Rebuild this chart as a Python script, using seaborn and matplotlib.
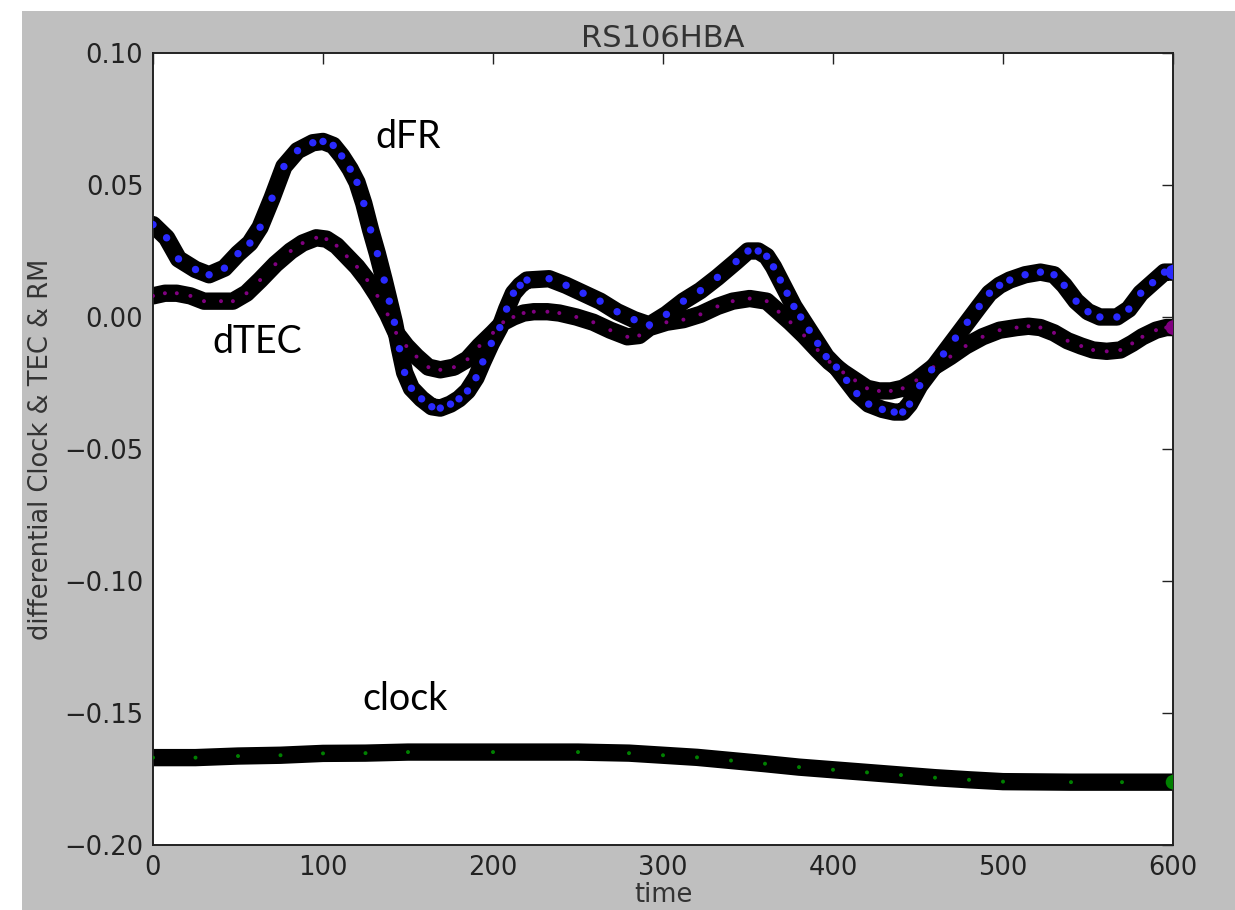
import numpy as np
import pandas as pd
import matplotlib
matplotlib.use("Agg")
import matplotlib.pyplot as plt
import seaborn as sns
from matplotlib.patches import Rectangle

# values (time, differential value)
dfr_t = [0, 8, 15, 25, 33, 42, 50, 57, 63, 70, 77, 85, 94, 100, 106, 111, 116, 120,
         124, 128, 132, 136, 139, 142, 145, 148, 152, 158, 164, 169, 175, 180, 185,
         190, 194, 199, 204, 208, 212, 216, 220, 233, 243, 253, 263, 273, 283, 292,
         302, 312, 322, 332, 343, 350, 356, 361, 365, 369, 373, 377, 381, 386, 391,
         396, 402, 408, 414, 421, 429, 436, 441, 445, 451, 458, 465, 472, 479, 486,
         492, 498, 504, 513, 522, 530, 536, 543, 550, 557, 567, 574, 581, 588, 595, 600]
dfr_v = [0.035, 0.030, 0.022, 0.018, 0.016, 0.0185, 0.024, 0.028, 0.034, 0.045, 0.057,
         0.063, 0.066, 0.0665, 0.065, 0.061, 0.056, 0.051, 0.043, 0.033, 0.024, 0.014,
         0.006, -0.002, -0.012, -0.021, -0.027, -0.031, -0.034, -0.0345, -0.033, -0.031,
         -0.028, -0.023, -0.017, -0.010, -0.004, 0.003, 0.009, 0.012, 0.014, 0.0145,
         0.012, 0.009, 0.006, 0.002, -0.001, -0.003, 0.001, 0.006, 0.010, 0.015, 0.021,
         0.025, 0.025, 0.023, 0.019, 0.014, 0.009, 0.004, 0.000, -0.005, -0.010, -0.015,
         -0.019, -0.024, -0.029, -0.033, -0.035, -0.036, -0.036, -0.033, -0.026, -0.020,
         -0.014, -0.008, -0.002, 0.004, 0.009, 0.012, 0.014, 0.016, 0.017, 0.016, 0.012,
         0.006, 0.002, 0.000, 0.000, 0.003, 0.009, 0.013, 0.017, 0.017]

dtec_t = [0, 7, 14, 22, 30, 40, 47, 55, 63, 72, 81, 88, 96, 102, 108, 114, 120, 126,
          132, 138, 143, 149, 155, 162, 169, 177, 185, 192, 200, 206, 212, 218, 224,
          232, 239, 249, 259, 269, 279, 286, 292, 302, 312, 322, 332, 341, 351, 361,
          368, 375, 383, 391, 398, 406, 413, 420, 427, 434, 441, 449, 459, 469, 478,
          488, 498, 508, 515, 522, 530, 538, 546, 553, 561, 569, 576, 582, 590, 596, 600]
dtec_v = [0.008, 0.009, 0.009, 0.008, 0.006, 0.006, 0.006, 0.009, 0.014, 0.020, 0.025,
          0.028, 0.030, 0.0295, 0.027, 0.023, 0.019, 0.014, 0.008, 0.001, -0.006, -0.011,
          -0.015, -0.019, -0.020, -0.019, -0.016, -0.011, -0.006, -0.002, 0.000, 0.0015,
          0.002, 0.002, 0.0015, 0.000, -0.002, -0.005, -0.0075, -0.007, -0.004, -0.002,
          -0.001, 0.001, 0.004, 0.006, 0.007, 0.006, 0.002, -0.002, -0.007, -0.0125,
          -0.017, -0.021, -0.024, -0.027, -0.028, -0.028, -0.027, -0.024, -0.019, -0.015,
          -0.011, -0.0075, -0.005, -0.004, -0.0035, -0.004, -0.006, -0.009, -0.011,
          -0.0125, -0.013, -0.0125, -0.010, -0.0075, -0.005, -0.004, -0.004]

clock_t = [0, 25, 50, 75, 100, 125, 150, 200, 250, 280, 300, 320, 340, 360, 380, 400,
           420, 440, 460, 480, 500, 540, 570, 600]
clock_v = [-0.1669, -0.1669, -0.1663, -0.1660, -0.1653, -0.1652, -0.1648, -0.1648,
           -0.1648, -0.1652, -0.1660, -0.1668, -0.1680, -0.1692, -0.1705, -0.1715,
           -0.1725, -0.1735, -0.1745, -0.1753, -0.1760, -0.1762, -0.1762, -0.1762]

# name, times, values, colour, marker size inside the band
series = [("clock", clock_t, clock_v, "#008000", 8),
          ("dTEC", dtec_t, dtec_v, "#800080", 8),
          ("dFR", dfr_t, dfr_v, "#2a2aff", 28)]

sns.set_style("white")
plt.rcParams["font.family"] = ["DejaVu Sans"]

fig = plt.figure(figsize=(12.35, 9.10), dpi=100, facecolor="white")
fig.patches.append(Rectangle((22 / 1235, 0), 1, 899 / 910, transform=fig.transFigure,
                             facecolor="#bfbfbf", edgecolor="none", zorder=-5))
ax = fig.add_axes([153 / 1235, 1 - 845 / 910, 1020 / 1235, 792 / 910])
ax.set_facecolor("white")

for name, t, v, col, ms in series:
    df = pd.DataFrame({"time": t, "val": v})
    sns.lineplot(data=df, x="time", y="val", color="black", linewidth=12.5,
                 solid_capstyle="round", solid_joinstyle="round", ax=ax)
    sns.scatterplot(data=df, x="time", y="val", color=col, s=ms,
                    edgecolor="none", ax=ax, zorder=3)
    # last sample sits on the right spine and shows fully
    sns.scatterplot(data=df.tail(1), x="time", y="val", color=col, s=110,
                    edgecolor="none", ax=ax, zorder=4)

ax.set_xlim(0, 600)
ax.set_ylim(-0.20, 0.10)
ax.set_xticks([0, 100, 200, 300, 400, 500, 600])
ax.set_yticks([-0.20, -0.15, -0.10, -0.05, 0.00, 0.05, 0.10])
ax.set_yticklabels(["\u22120.20", "\u22120.15", "\u22120.10", "\u22120.05",
                    "0.00", "0.05", "0.10"])
ax.tick_params(direction="in", top=True, right=True, length=8, width=1,
               labelsize=18.5, colors="#222222", pad=7)
for sp in ax.spines.values():
    sp.set_linewidth(1.4)
    sp.set_color("#222222")

ax.set_title("RS106HBA", fontsize=22, color="#333333", pad=4)
ax.set_xlabel("time", fontsize=18.5, color="#333333", labelpad=1)
ax.set_ylabel("differential Clock & TEC & RM", fontsize=18.5, color="#333333",
              labelpad=7)

ann_font = dict(family=["Lato", "DejaVu Sans"], fontsize=27, color="black")
ax.text(131, 0.064, "dFR", **ann_font)
ax.text(35, -0.0136, "dTEC", **ann_font)
ax.text(123, -0.149, "clock", **ann_font)

fig.savefig("out.png", dpi=100, facecolor=fig.get_facecolor())
